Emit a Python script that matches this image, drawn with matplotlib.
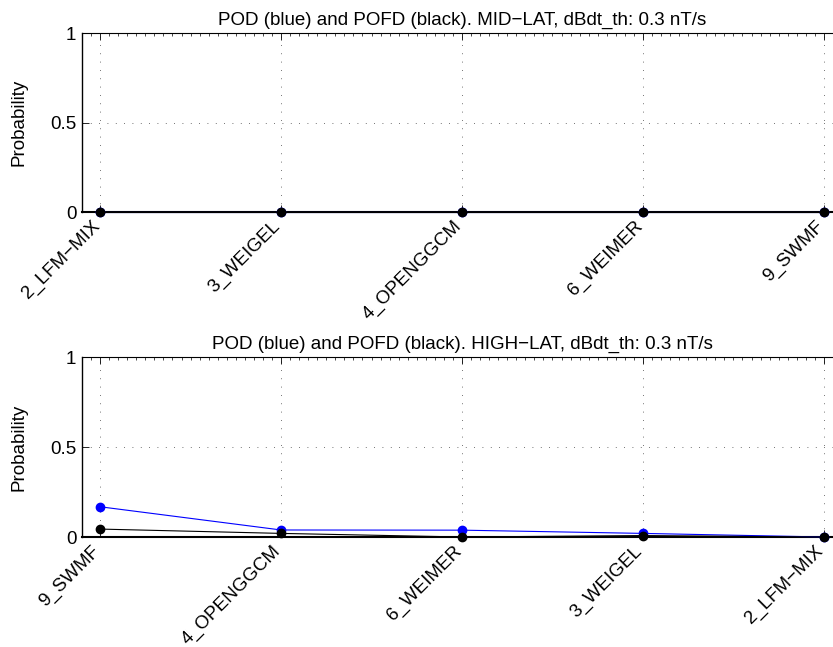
import matplotlib.pyplot as plt
import numpy as np

plt.rcParams['font.family'] = ['Liberation Sans', 'DejaVu Sans']

# top panel (MID-LAT)
mid_models = ["2_LFM\u2212MIX", "3_WEIGEL", "4_OPENGGCM", "6_WEIMER", "9_SWMF"]
mid_pod = [0.0, 0.0, 0.0, 0.0, 0.0]
mid_pofd = [0.0, 0.0, 0.0, 0.0, 0.0]

# bottom panel (HIGH-LAT)
high_models = ["9_SWMF", "4_OPENGGCM", "6_WEIMER", "3_WEIGEL", "2_LFM\u2212MIX"]
high_pod = [0.168, 0.039, 0.038, 0.02, 0.0]
high_pofd = [0.044, 0.02, 0.0, 0.008, 0.0]

titles = ["POD (blue) and POFD (black). MID\u2212LAT, dBdt_th: 0.3 nT/s",
          "POD (blue) and POFD (black). HIGH\u2212LAT, dBdt_th: 0.3 nT/s"]

fs = 13.5
fig = plt.figure(figsize=(8.33, 6.47), dpi=100)
W, H = 833.0, 647.0
# axes boxes in pixels: left, top, right, bottom (right runs past the figure edge)
boxes = [(82, 33, 842, 212), (82, 357, 842, 537)]

panels = [(mid_models, mid_pod, mid_pofd), (high_models, high_pod, high_pofd)]

for (models, pod, pofd), title, (l, t, r, b) in zip(panels, titles, boxes):
    ax = fig.add_axes([l / W, (H - b) / H, (r - l) / W, (b - t) / H])
    x = np.arange(1, len(models) + 1)
    ax.plot(x, pod, '-o', color='blue', lw=0.8, ms=6, clip_on=False, zorder=3)
    ax.plot(x, pofd, '-o', color='black', lw=0.8, ms=6, clip_on=False, zorder=4)
    ax.set_xlim(0.9, 5.1)
    ax.set_ylim(0, 1)
    ax.set_xticks(x)
    ax.set_xticklabels(models, rotation=45, ha='right', va='baseline',
                       rotation_mode='anchor', fontsize=fs)
    ax.set_yticks([0, 0.5, 1])
    ax.set_yticklabels(['0', '0.5', '1'], fontsize=fs)
    ax.set_xticks(np.arange(0.9, 5.1, 0.05), minor=True)
    ax.tick_params(axis='x', which='minor', direction='in', length=2, width=0.5,
                   top=True, bottom=False)
    ax.tick_params(axis='both', which='major', direction='in', length=5, width=0.6,
                   top=True, pad=4)
    ax.tick_params(axis='x', which='major', pad=10.5)
    ax.grid(True, which='major', linestyle=(0, (1, 9)), color='#444444', linewidth=0.6)
    ax.spines['right'].set_visible(False)
    ax.spines['left'].set_linewidth(1.0)
    ax.spines['top'].set_linewidth(0.8)
    ax.spines['bottom'].set_linewidth(1.5)
    ax.set_ylabel('Probability', fontsize=fs)
    ax.yaxis.set_label_coords(-0.072, 0.5)
    ax.set_title(title, fontsize=fs, pad=6)

fig.savefig('out.png', dpi=100)
